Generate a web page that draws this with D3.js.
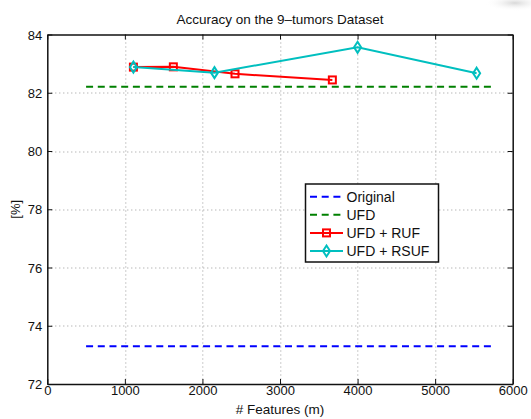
<!DOCTYPE html>
<html>
<head>
<meta charset="utf-8">
<script src="https://cdnjs.cloudflare.com/ajax/libs/d3/7.8.5/d3.min.js"></script>
<style>
	body { margin: 0; background: #fff; }
	svg text { font-family: "Liberation Sans", Arial, sans-serif; fill: #111; }
</style>
</head>
<body>
<svg id="chart" width="531" height="419"></svg>
<script>
// data
var title = "Accuracy on the 9\u2013tumors Dataset";
var xTicks = [0, 1000, 2000, 3000, 4000, 5000, 6000];
var yTicks = [72, 74, 76, 78, 80, 82, 84];

var baselineX = [500, 5730];
var originalY = [73.3, 73.3];
var ufdY = [82.21, 82.21];

var rufX = [1110, 1625, 2420, 3675];
var rufY = [82.88, 82.89, 82.65, 82.44];

var rsufX = [1110, 2155, 4000, 5535];
var rsufY = [82.88, 82.69, 83.56, 82.67];

var svg = d3.select("#chart");
var margin = {left: 47.3, top: 34.5, right: 531 - 512.7, bottom: 419 - 384};
var width = 531 - margin.left - margin.right;
var height = 419 - margin.top - margin.bottom;

var x = d3.scaleLinear().domain([0, 6000]).range([0, width]);
var y = d3.scaleLinear().domain([72, 84]).range([height, 0]);

// faint smudge in the top-right corner
var defs = svg.append("defs");
var grad = defs.append("radialGradient").attr("id", "smudge");
grad.append("stop").attr("offset", "0%").attr("stop-color", "#d8d8d8");
grad.append("stop").attr("offset", "100%").attr("stop-color", "#fff").attr("stop-opacity", 0);
svg.append("ellipse")
	.attr("cx", 515).attr("cy", 3)
	.attr("rx", 30).attr("ry", 8)
	.attr("fill", "url(#smudge)");

var g = svg.append("g")
	.attr("transform", "translate(" + margin.left + "," + margin.top + ")");

// dotted grid
var grid = g.append("g").attr("class", "grid");
xTicks.slice(1, -1).forEach(function (t) {
	grid.append("line")
		.attr("x1", Math.round(x(t)) + 0.5).attr("x2", Math.round(x(t)) + 0.5)
		.attr("y1", 0).attr("y2", height)
		.attr("stroke", "#999").attr("stroke-width", 1)
		.attr("stroke-dasharray", "1,3");
});
yTicks.slice(1, -1).forEach(function (t) {
	grid.append("line")
		.attr("x1", 0).attr("x2", width)
		.attr("y1", Math.round(y(t)) + 0.5).attr("y2", Math.round(y(t)) + 0.5)
		.attr("stroke", "#999").attr("stroke-width", 1)
		.attr("stroke-dasharray", "1,3");
});

// axes with ticks pointing inward, on all four sides
var fmt = d3.format("d");
var xAxis = g.append("g")
	.attr("transform", "translate(0," + height + ")")
	.call(d3.axisBottom(x).tickValues(xTicks).tickFormat(fmt).tickSizeInner(-5).tickSizeOuter(0).tickPadding(2));
g.append("g")
	.call(d3.axisTop(x).tickValues(xTicks).tickSizeInner(-5).tickSizeOuter(0).tickFormat(""));
var yAxis = g.append("g")
	.call(d3.axisLeft(y).tickValues(yTicks).tickFormat(fmt).tickSizeInner(-5).tickSizeOuter(0).tickPadding(5));
g.append("g")
	.attr("transform", "translate(" + width + ",0)")
	.call(d3.axisRight(y).tickValues(yTicks).tickSizeInner(-5).tickSizeOuter(0).tickFormat(""));

g.selectAll(".domain").attr("stroke", "#111").attr("stroke-width", 1.5);
g.selectAll(".tick line").attr("stroke", "#111");
g.selectAll(".tick text").attr("font-size", "13px").style("fill", "#111");
xAxis.selectAll(".tick text").attr("dy", "0.71em");
yAxis.selectAll(".tick text").attr("dy", "0.35em");

// series
var line = d3.line()
	.x(function (d) { return x(d[0]); })
	.y(function (d) { return y(d[1]); });

function zip(xs, ys) {
	return xs.map(function (v, i) { return [v, ys[i]]; });
}

var series = [
	{name: "Original", pts: zip(baselineX, originalY), color: "#0000ff", dash: "7,4.7", marker: null},
	{name: "UFD", pts: zip(baselineX, ufdY), color: "#008000", dash: "7,4.7", marker: null},
	{name: "UFD + RUF", pts: zip(rufX, rufY), color: "#ff0000", dash: null, marker: "square"},
	{name: "UFD + RSUF", pts: zip(rsufX, rsufY), color: "#00bfbf", dash: null, marker: "diamond"}
];

function drawMarker(sel, type, color, cx, cy) {
	if (type === "square") {
		sel.append("rect")
			.attr("x", cx - 3.5).attr("y", cy - 3.5)
			.attr("width", 7).attr("height", 7)
			.attr("fill", "none").attr("stroke", color).attr("stroke-width", 2);
	} else if (type === "diamond") {
		sel.append("path")
			.attr("d", "M" + cx + "," + (cy - 5.5) + "L" + (cx + 3.5) + "," + cy +
				"L" + cx + "," + (cy + 5.5) + "L" + (cx - 3.5) + "," + cy + "Z")
			.attr("fill", "none").attr("stroke", color).attr("stroke-width", 2);
	}
}

series.forEach(function (s) {
	g.append("path")
		.datum(s.pts)
		.attr("d", line)
		.attr("fill", "none")
		.attr("stroke", s.color)
		.attr("stroke-width", 2)
		.attr("stroke-dasharray", s.dash);
	if (s.marker) {
		var mg = g.append("g");
		s.pts.forEach(function (p) {
			drawMarker(mg, s.marker, s.color, x(p[0]), y(p[1]));
		});
	}
});

// legend
var lg = svg.append("g").attr("transform", "translate(305.5,184)");
lg.append("rect")
	.attr("width", 133).attr("height", 78)
	.attr("fill", "#fff").attr("stroke", "#111").attr("stroke-width", 1.5);
series.forEach(function (s, i) {
	var ly = 12.7 + i * 18.1;
	lg.append("line")
		.attr("x1", 4.5).attr("x2", 37.5)
		.attr("y1", ly).attr("y2", ly)
		.attr("stroke", s.color).attr("stroke-width", 2)
		.attr("stroke-dasharray", s.dash);
	if (s.marker) drawMarker(lg, s.marker, s.color, 21, ly);
	lg.append("text")
		.attr("x", 41).attr("y", ly)
		.attr("dy", "0.35em")
		.attr("font-size", "14px")
		.text(s.name);
});

// titles
svg.append("text")
	.attr("x", margin.left + width / 2).attr("y", 24)
	.attr("text-anchor", "middle")
	.attr("font-size", "13.5px")
	.text(title);
svg.append("text")
	.attr("x", margin.left + width / 2).attr("y", 414)
	.attr("text-anchor", "middle")
	.attr("font-size", "13.5px")
	.text("# Features (m)");
svg.append("text")
	.attr("transform", "translate(20," + (margin.top + height / 2) + ") rotate(-90)")
	.attr("text-anchor", "middle")
	.attr("font-size", "13px")
	.text("[%]");
</script>
</body>
</html>
